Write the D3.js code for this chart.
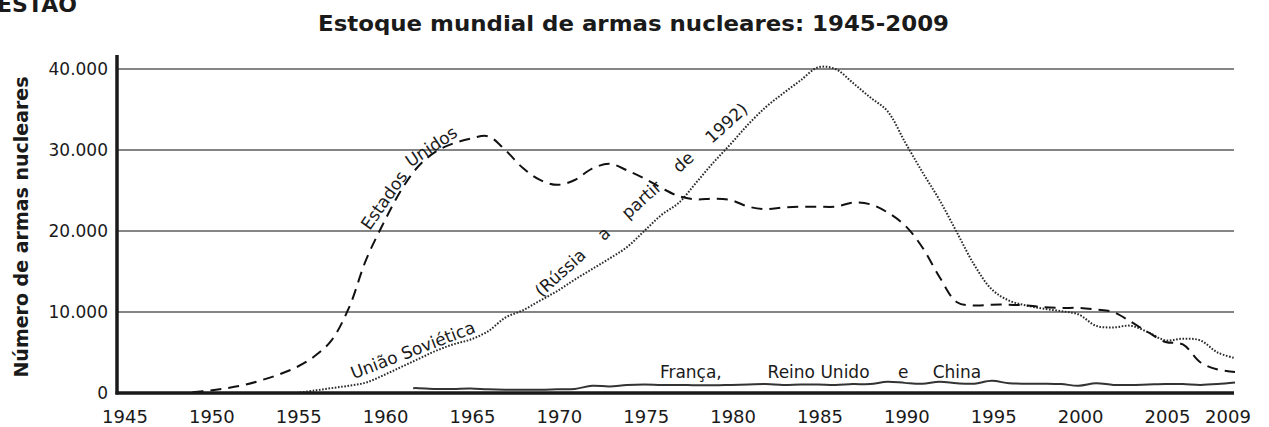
<!DOCTYPE html>
<html>
<head>
<meta charset="utf-8">
<script src="https://cdn.jsdelivr.net/npm/d3@7"></script>
<style>
  body { margin: 0; background: #fff; }
  text { font-family: "DejaVu Sans", Verdana, sans-serif; fill: #1a1a1a; }
  .grid_line { stroke: #858585; stroke-width: 2; }
  .axis_line { stroke: #1a1a1a; stroke-width: 3.5; fill: none; }
  .tick_lbl { font-size: 18px; }
  .serie { fill: none; }
  .curve_lbl { font-size: 17px; }
</style>
</head>
<body>
<svg id="canvas" width="1269" height="427"></svg>
<script>
// ************************************************************************************** //
// Data

var years_us = [1949,1950,1951,1952,1953,1954,1955,1956,1957,1958,1959,1960,1961,1962,1963,1964,1965,1966,1967,1968,1969,1970,1971,1972,1973,1974,1975,1976,1977,1978,1979,1980,1981,1982,1983,1984,1985,1986,1987,1988,1989,1990,1991,1992,1993,1994,1995,1996,1997,1998,1999,2000,2001,2002,2003,2004,2005,2006,2007,2008,2009];
var values_us = [100,300,600,1000,1600,2300,3200,4500,6500,10500,16500,21000,25000,28000,29800,30800,31400,31700,30000,27800,26300,25700,26300,27700,28300,27500,26500,25300,24300,23900,24000,23800,23000,22700,22900,23000,23000,23000,23500,23300,22300,20700,18000,14300,11200,10800,10900,10900,10800,10600,10500,10500,10300,10000,8800,7500,6300,6000,3800,2900,2600];

var years_ussr = [1955,1956,1957,1958,1959,1960,1961,1962,1963,1964,1965,1966,1967,1968,1969,1970,1971,1972,1973,1974,1975,1976,1977,1978,1979,1980,1981,1982,1983,1984,1985,1986,1987,1988,1989,1990,1991,1992,1993,1994,1995,1996,1997,1998,1999,2000,2001,2002,2003,2004,2005,2006,2007,2008,2009];
var values_ussr = [0,300,600,900,1300,2200,3200,4200,5200,6000,6600,7600,9300,10200,11400,12600,14000,15300,16600,18000,20000,22000,23500,26000,28500,30800,33200,35300,37000,38600,40200,40000,38300,36500,34800,31000,27300,23800,19800,15800,12800,11400,10800,10400,10100,9700,8300,8100,8300,7500,6500,6700,6500,5000,4300];

var years_others = [1961.7,1962,1963,1964,1965,1966,1967,1968,1969,1970,1971,1972,1973,1974,1975,1976,1977,1978,1979,1980,1981,1982,1983,1984,1985,1986,1987,1988,1989,1990,1991,1992,1993,1994,1995,1996,1997,1998,1999,2000,2001,2002,2003,2004,2005,2006,2007,2008,2009];
var values_others = [600,600,500,500,550,450,400,400,400,450,500,900,800,1000,1050,1000,1000,950,950,1000,1050,1100,1000,1050,1050,1000,1100,1100,1400,1250,1150,1400,1200,1150,1500,1200,1150,1150,1100,900,1200,1000,1000,1050,1100,1100,1000,1100,1300];

var x_ticks = [1945,1950,1955,1960,1965,1970,1975,1980,1985,1990,1995,2000,2005,2009];
var y_ticks = [0,10000,20000,30000,40000];
var y_tick_labels = ['0','10.000','20.000','30.000','40.000'];

// ************************************************************************************** //
// Scales

var x = d3.scaleLinear().domain([1945, 2009]).range([123, 1235]);
var y = d3.scaleLinear().domain([0, 40000]).range([393, 69]);
var axis_left = 117, grid_right = 1234;

var svg = d3.select('#canvas');

// ************************************************************************************** //
// Titles

svg.append('text').attr('x', -3).attr('y', 12)
  .style('font-size', '22px').style('font-weight', 'bold').text('ESTÃO');

svg.append('text').attr('x', 318).attr('y', 31)
  .attr('textLength', 631).attr('lengthAdjust', 'spacingAndGlyphs')
  .style('font-size', '21px').style('font-weight', 'bold')
  .text('Estoque mundial de armas nucleares: 1945-2009');

svg.append('text').attr('transform', 'translate(28,' + 227 + ') rotate(-90)')
  .attr('text-anchor', 'middle')
  .style('font-size', '19px').style('font-weight', 'bold')
  .text('Número de armas nucleares');

// ************************************************************************************** //
// Grid and axes

for(var i = 1; i < y_ticks.length; i++){
  svg.append('line').attr('class', 'grid_line')
    .attr('x1', axis_left).attr('x2', grid_right)
    .attr('y1', y(y_ticks[i])).attr('y2', y(y_ticks[i]));
}

for(var i = 0; i < y_ticks.length; i++){
  svg.append('text').attr('class', 'tick_lbl')
    .attr('x', 108).attr('y', y(y_ticks[i])).attr('dy', '0.36em')
    .attr('text-anchor', 'end').style('font-size', '17px')
    .text(y_tick_labels[i]);
}

for(var i = 0; i < x_ticks.length; i++){
  var shift = (x_ticks[i] == 2009) ? -7 : 2;
  svg.append('text').attr('class', 'tick_lbl')
    .attr('x', x(x_ticks[i]) + shift).attr('y', 423)
    .attr('text-anchor', 'middle')
    .text(x_ticks[i]);
}

// ************************************************************************************** //
// Series

var line = d3.line().curve(d3.curveCatmullRom.alpha(0.5))
  .x(function(d){ return x(d[0]); })
  .y(function(d){ return y(d[1]); });

svg.append('path').attr('class', 'serie')
  .attr('d', line(d3.zip(years_others, values_others)))
  .style('stroke', '#333').style('stroke-width', 2);

svg.append('path').attr('class', 'serie')
  .attr('d', line(d3.zip(years_ussr, values_ussr)))
  .style('stroke', '#2a2a2a').style('stroke-width', 2)
  .style('stroke-dasharray', '1.6 1.6');

svg.append('path').attr('class', 'serie')
  .attr('d', line(d3.zip(years_us, values_us)))
  .style('stroke', '#111').style('stroke-width', 2)
  .style('stroke-dasharray', '11 7');

svg.append('line').attr('class', 'axis_line')
  .attr('x1', axis_left).attr('x2', axis_left).attr('y1', 55).attr('y2', 394.5);
svg.append('line').attr('class', 'axis_line')
  .attr('x1', axis_left - 1.5).attr('x2', grid_right).attr('y1', 393).attr('y2', 393);

// ************************************************************************************** //
// Curve labels

function curveLabel(txt, yr, val, angle, anchor, spacing){
  var t = svg.append('text').attr('class', 'curve_lbl')
    .attr('text-anchor', anchor)
    .attr('transform', 'translate(' + x(yr) + ',' + y(val) + ') rotate(' + angle + ')')
    .text(txt);
  if(spacing){ t.style('word-spacing', spacing + 'px'); }
}

curveLabel('Estados', 1959.2, 20000, -55, 'start');
curveLabel('Unidos', 1961.55, 27800, -34, 'start');
curveLabel('União Soviética', 1961.8, 4600, -21, 'middle');
curveLabel('(Rússia a partir de 1992)', 1975.05, 23300, -42, 'middle', 17);

var others_lbls = [['França,', 1975.9], ['Reino Unido', 1982.1], ['e', 1989.6], ['China', 1991.6]];
for(var i = 0; i < others_lbls.length; i++){
  svg.append('text').attr('class', 'curve_lbl')
    .attr('x', x(others_lbls[i][1])).attr('y', y(1900))
    .text(others_lbls[i][0]);
}
</script>
</body>
</html>
